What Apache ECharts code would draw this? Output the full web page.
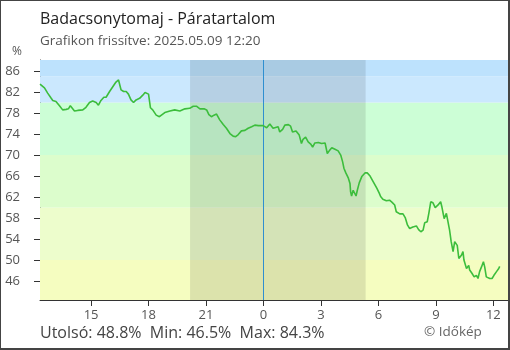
<!DOCTYPE html>
<html>
<head>
<meta charset="utf-8">
<script src="https://cdn.jsdelivr.net/npm/echarts@6/dist/echarts.min.js"></script>
<style>
  html, body { margin: 0; padding: 0; background: #fff; }
  #chart { position: absolute; left: 0; top: 0; width: 510px; height: 350px; }
  #frame { position: absolute; left: 0; top: 0; width: 510px; height: 350px; box-sizing: border-box;
           border-style: solid; border-color: #444; border-width: 1px 2px 2px 1px; pointer-events: none; }
</style>
</head>
<body>
<div id="chart"></div>
<div id="frame"></div>
<script>
// Relative humidity, Badacsonytomaj, 2025-05-08 12:20 .. 2025-05-09 12:20
// minutes: elapsed since 2025-05-08 12:20
const minutes = [
  0, 14, 24, 34, 40, 50, 61, 71, 82, 89, 95, 100, 108, 118, 134, 144, 155, 165, 176, 183,
  191, 200, 207, 218, 228, 238, 246, 249, 254, 262, 270, 277, 285, 293, 301, 312, 322, 329, 335, 340,
  346, 353, 364, 374, 380, 391, 407, 422, 438, 454, 469, 480, 490, 501, 514, 522, 529, 537, 545, 553,
  563, 574, 584, 595, 605, 613, 621, 631, 642, 652, 663, 673, 684, 689, 699, 710, 720, 730, 736, 746,
  751, 760, 767, 778, 785, 791, 802, 806, 812, 819, 824, 832, 840, 848, 854, 861, 872, 882, 887, 893,
  900, 906, 914, 924, 934, 942, 948, 952, 958, 966, 971, 973, 976, 981, 987, 990, 994, 1000, 1008, 1018,
  1025, 1034, 1044, 1055, 1063, 1067, 1074, 1085, 1095, 1103, 1111, 1116, 1127, 1137, 1144, 1151, 1158, 1168, 1179, 1186,
  1193, 1200, 1205, 1213, 1218, 1224, 1231, 1238, 1247, 1255, 1259, 1266, 1273, 1278, 1283, 1288, 1294, 1299, 1307, 1312,
  1320, 1325, 1328, 1336, 1343, 1346, 1353, 1360, 1367, 1372, 1377, 1383, 1389, 1393, 1398, 1409, 1416, 1422, 1430, 1437,
  1440
];
const humidity = [
  83.5, 82.8, 81.8, 80.9, 80.4, 80.2, 79.4, 78.6, 78.7, 78.8, 79.4, 79.2, 78.4, 78.5, 78.6, 79.1, 80.0, 80.3, 80.0, 79.5,
  80.4, 81.0, 81.0, 82.1, 83.0, 83.9, 84.3, 84.0, 82.4, 82.1, 82.1, 81.6, 80.5, 80.0, 80.5, 80.8, 81.4, 81.9, 81.6, 81.6,
  79.0, 78.6, 77.6, 77.3, 77.6, 78.1, 78.4, 78.6, 78.4, 78.8, 78.9, 79.3, 79.3, 78.8, 78.8, 78.6, 77.7, 77.3, 77.6, 77.8,
  76.7, 75.8, 75.1, 74.1, 73.6, 73.5, 73.9, 74.6, 74.7, 75.1, 75.4, 75.7, 75.6, 75.9, 75.6, 75.2, 75.9, 75.1, 75.3, 75.4,
  74.4, 74.9, 75.7, 75.8, 75.5, 74.4, 74.6, 74.4, 73.8, 72.2, 73.0, 73.4, 72.5, 72.1, 71.5, 72.3, 72.4, 72.2, 71.9, 72.3,
  70.3, 70.8, 71.4, 71.1, 70.8, 70.0, 68.7, 67.5, 66.6, 65.6, 64.6, 63.0, 62.2, 63.3, 63.0, 62.2, 63.3, 64.7, 65.9, 66.6,
  66.6, 66.0, 64.9, 63.7, 62.7, 62.1, 61.6, 61.3, 61.4, 61.0, 60.5, 59.2, 58.8, 58.8, 58.1, 56.7, 56.0, 56.3, 56.5, 55.8,
  55.4, 55.7, 57.1, 57.3, 58.9, 61.1, 60.9, 60.0, 60.5, 61.1, 60.1, 57.9, 58.9, 58.9, 55.7, 53.5, 51.6, 53.5, 52.8, 50.3,
  50.9, 51.6, 50.0, 48.4, 49.0, 48.1, 47.5, 46.8, 47.1, 46.5, 47.8, 48.7, 49.7, 48.7, 46.8, 46.5, 46.5, 47.1, 47.8, 48.4,
  48.8
];

// axis ranges and ticks
const startClock = 12 * 60 + 20;          // 12:20 on the first day
const xEnd = 1466;
const yMin = 42.4, yMax = 88.1;
const hourTicks = [160, 340, 520, 700, 880, 1060, 1240, 1420];   // 15, 18, 21, 0, 3, 6, 9, 12
const humidityTicks = [46, 50, 54, 58, 62, 66, 70, 74, 78, 82, 86];

// humidity bands, bottom to top
const bandLimits = [yMin, 50, 60, 70, 80, 85, yMax];
const bandColors = ['#f5fdc0', '#edfdcc', '#dcfdcc', '#ccfed6', '#cbe8fe', '#bde2fd'];

// darkness between sunset and sunrise, and midnight marker
const nightStart = 470;   // 20:10
const nightEnd = 1020;    // 05:20
const midnight = 700;

const stats = { last: 48.8, min: 46.5, max: 84.3 };

const points = minutes.map((m, i) => [m, humidity[i]]);

const bandAreas = bandColors.map((c, i) => [
  { yAxis: bandLimits[i], itemStyle: { color: c } },
  { yAxis: bandLimits[i + 1] }
]);

const axisColor = '#333';
const font = '"Open Sans", "Noto Sans", sans-serif';

const chart = echarts.init(document.getElementById('chart'), null, { renderer: 'canvas' });

const xCommon = { type: 'value', min: 0, max: xEnd, position: 'bottom', splitLine: { show: false } };
const yCommon = { type: 'value', min: yMin, max: yMax, position: 'left', splitLine: { show: false } };

chart.setOption({
  animation: false,
  grid: { left: 40, top: 60, right: 2, bottom: 50 },
  xAxis: [
    Object.assign({}, xCommon, {
      axisLine: { show: true, lineStyle: { color: axisColor, width: 1 } },
      axisTick: { show: true, inside: false, length: 6, customValues: hourTicks, lineStyle: { color: axisColor } },
      axisLabel: {
        show: true, customValues: hourTicks, color: '#555', fontSize: 13, fontFamily: font, margin: 9,
        formatter: v => String(Math.round((startClock + v) / 60) % 24)
      }
    }),
    Object.assign({}, xCommon, {
      axisLine: { show: false },
      axisTick: { show: true, inside: true, length: 6, customValues: hourTicks, lineStyle: { color: axisColor } },
      axisLabel: { show: false, customValues: hourTicks }
    })
  ],
  yAxis: [
    Object.assign({}, yCommon, {
      axisLine: { show: true, lineStyle: { color: axisColor, width: 1 } },
      axisTick: { show: true, inside: false, length: 6, customValues: humidityTicks, lineStyle: { color: axisColor } },
      axisLabel: { show: true, customValues: humidityTicks, color: '#555', fontSize: 13, fontFamily: font, margin: 20 }
    }),
    Object.assign({}, yCommon, {
      axisLine: { show: false },
      axisTick: { show: true, inside: true, length: 6, customValues: humidityTicks, lineStyle: { color: axisColor } },
      axisLabel: { show: false, customValues: humidityTicks }
    })
  ],
  series: [
    {
      name: 'bands', type: 'line', data: [], silent: true, z: 1,
      markArea: { silent: true, data: bandAreas }
    },
    {
      name: 'night', type: 'line', data: [], silent: true, z: 2,
      markArea: {
        silent: true,
        itemStyle: { color: 'rgba(0,0,0,0.1)' },
        data: [[{ xAxis: nightStart }, { xAxis: nightEnd }]]
      },
      markLine: {
        silent: true, symbol: ['none', 'none'], label: { show: false },
        lineStyle: { color: '#2f8fd0', width: 1, type: 'solid' },
        data: [{ xAxis: midnight }]
      }
    },
    {
      name: 'Páratartalom', type: 'line', data: points, z: 5,
      showSymbol: false, symbol: 'none',
      lineStyle: { color: '#3cbd3c', width: 1.6 },
      itemStyle: { color: '#3cbd3c' }
    }
  ],
  graphic: [
    { type: 'text', left: 40, top: 11, style: { text: 'Badacsonytomaj - Páratartalom', fill: '#222', font: '16px ' + font } },
    { type: 'text', left: 40, top: 34, style: { text: 'Grafikon frissítve: 2025.05.09 12:20', fill: '#555', font: '13.5px ' + font } },
    { type: 'text', left: 12, top: 46, style: { text: '%', fill: '#555', font: '12px ' + font } },
    { type: 'text', left: 40, top: 325,
      style: { text: 'Utolsó: ' + stats.last.toFixed(1) + '%  Min: ' + stats.min.toFixed(1) + '%  Max: ' + stats.max.toFixed(1) + '%',
               fill: '#444', font: '16px ' + font } },
    { type: 'text', left: 424, top: 325, style: { text: '© Időkép', fill: '#666', font: '13.5px ' + font } }
  ]
});
</script>
</body>
</html>
